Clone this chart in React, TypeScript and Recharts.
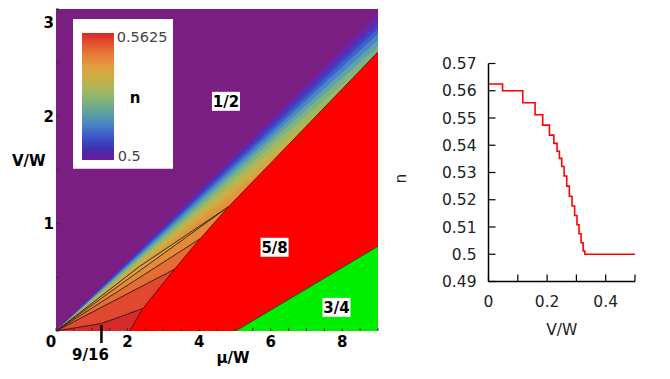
import React from "react";
import {
  ComposedChart,
  Area,
  XAxis,
  YAxis,
  ReferenceDot,
  Legend,
  Label,
  LineChart,
  Line,
} from "recharts";

// ---------- left panel: (mu/W, V/W) phase diagram ----------
const muLabels = [0, 2, 4, 6, 8];
const vLabels = [1, 2, 3];
const muMinor = [0, 0.5, 1, 1.5, 2, 2.5, 3, 3.5, 4, 4.5, 5, 5.5, 6, 6.5, 7, 7.5, 8, 8.5, 9];
const vMinor = [0, 0.5, 1, 1.5, 2, 2.5, 3];
const nineSixteenthMu = 1.27;

// n = 1/2 everywhere underneath
const frameMu = [0, 9];
const frameV = [3, 3];

// rainbow strips below V = mu/3 (upper edge of each strip at mu/W = 9)
const stripTopAt9 = [2.97, 2.92, 2.87, 2.82, 2.77, 2.71, 2.65, 2.58, 2.5, 2.42, 2.34, 2.27];
const stripColors = [
  "#74219a", "#5a2bb0", "#4340c2", "#3b62cc", "#4a86c6", "#60a2aa",
  "#7cb284", "#a0b862", "#c0b24c", "#d4a644", "#dc9a3e", "#e0923a",
];

// plateaus fanning out of the origin, outermost first
const sliverMu = [0, 2.33, 4.83];
const sliverV = [0, 0.6, 1.16];
const plateauDMu = [0, 4.83];
const plateauDV = [0, 1.16];
const plateauCMu = [0, 4.03];
const plateauCV = [0, 0.86];
const plateauBMu = [0, 3.31];
const plateauBV = [0, 0.575];
const plateauAMu = [0, 1.27, 2.43];
const plateauAV = [0, 0.07, 0.21];

// n = 5/8 and n = 3/4 regions (upper edges)
const fiveEighthsMu = [2.06, 2.43, 3.31, 4.03, 4.83, 9];
const fiveEighthsV = [0, 0.21, 0.575, 0.86, 1.16, 2.6];
const threeQuartersMu = [5.02, 9];
const threeQuartersV = [0, 0.79];

const phaseNames = ["1/2", "5/8", "3/4"];
const phaseMu = [4.75, 6.11, 7.84];
const phaseV = [2.14, 0.78, 0.22];

const colorbarRange = ["0.5", "0.5625"];
const colorbarStops = [
  "#dc2626", "#e4572e", "#e8803a", "#e0a040", "#c8b048", "#a4b860",
  "#7cb07c", "#5aa0a0", "#4a80c8", "#3c56c8", "#4030b0", "#6a1a9a",
];

// ---------- right panel: cut at mu/W = 1 ----------
const vw = [0, 0.048, 0.117, 0.159, 0.185, 0.208, 0.223, 0.234, 0.242, 0.25, 0.258, 0.267, 0.276, 0.285, 0.294, 0.302, 0.309, 0.316, 0.323, 0.329, 0.5];
const nVals = [0.5625, 0.56, 0.5556, 0.5512, 0.5474, 0.5437, 0.5407, 0.5378, 0.5352, 0.5322, 0.5287, 0.525, 0.5213, 0.5177, 0.5142, 0.5108, 0.5075, 0.5042, 0.5012, 0.5, 0.5];
const cutTicksX = [0, 0.1, 0.2, 0.3, 0.4, 0.5];
const cutLabelsX = [0, 0.2, 0.4];
const cutTicksY = [0.49, 0.5, 0.51, 0.52, 0.53, 0.54, 0.55, 0.56, 0.57];

const rows = (mu: number[], v: number[]) => mu.map((m, i) => ({ mu: m, v: v[i] }));
const cutData = vw.map((v, i) => ({ v, n: nVals[i] }));

const bold = { fontFamily: "DejaVu Sans", fontSize: 15, fontWeight: "bold" as const, fill: "#000" };
const thin = { fontFamily: "DejaVu Sans", fontSize: 15.5, fill: "#222" };

const MuTick = (p: any) => {
  const { x, y, payload } = p;
  const val = payload.value;
  if (val === nineSixteenthMu) {
    return (
      <g>
        <line x1={x} y1={y - 6} x2={x} y2={y + 12} stroke="#000" strokeWidth={2.5} />
        <text x={x - 11} y={y + 29} textAnchor="middle" {...bold}>9/16</text>
      </g>
    );
  }
  return (
    <g>
      <line x1={x} y1={y} x2={x} y2={y - 3} stroke="#333" />
      {muLabels.includes(val) && (
        <text x={val === 0 ? x - 5 : x} y={y + 16} textAnchor="middle" {...bold}>{val}</text>
      )}
    </g>
  );
};

const VTick = (p: any) => {
  const { x, y, payload } = p;
  const val = payload.value;
  return (
    <g>
      <line x1={x} y1={y} x2={x + 3} y2={y} stroke="#333" />
      {vLabels.includes(val) && (
        <text x={x - 2} y={y + 5.5 + (val === 3 ? 13 : 0)} textAnchor="end" {...bold}>{val}</text>
      )}
    </g>
  );
};

const TopTick = (p: any) => <line x1={p.x} y1={p.y} x2={p.x} y2={p.y + 3} stroke="#333" />;
const RightTick = (p: any) => <line x1={p.x} y1={p.y} x2={p.x - 3} y2={p.y} stroke="#333" />;

const PhaseTag = (text: string) => (p: any) => (
  <g>
    <rect x={p.cx - 14} y={p.cy - 9.5} width={28} height={19} fill="#fff" />
    <text x={p.cx} y={p.cy + 5.5} textAnchor="middle" {...bold}>{text}</text>
  </g>
);

const ColorBar = () => (
  <div style={{ width: 100, height: 150, background: "#fff", position: "relative", boxSizing: "border-box", borderBottom: "1px solid #e0c8dc" }}>
    <div
      style={{
        position: "absolute", left: 9, top: 14, width: 32, height: 127,
        background: `linear-gradient(to bottom, ${colorbarStops.join(",")})`,
      }}
    />
    <span style={{ position: "absolute", left: 44, top: 10, font: "14.5px 'DejaVu Sans'", color: "#444" }}>{colorbarRange[1]}</span>
    <span style={{ position: "absolute", left: 45, top: 129, font: "14.5px 'DejaVu Sans'", color: "#444" }}>{colorbarRange[0]}</span>
    <span style={{ position: "absolute", left: 57, top: 70, font: "bold 15px 'DejaVu Sans'", color: "#000" }}>n</span>
  </div>
);

const area = (key: string, data: any[], fill: string, stroke = "none", sw = 0) => (
  <Area
    key={key}
    data={data}
    dataKey="v"
    type="linear"
    xAxisId="b"
    yAxisId="l"
    fill={fill}
    fillOpacity={1}
    stroke={stroke}
    strokeWidth={sw}
    dot={false}
    activeDot={false}
    isAnimationActive={false}
  />
);

function PhaseDiagram() {
  return (
    <ComposedChart width={390} height={379} margin={{ top: 9, right: 12, bottom: 18, left: 0 }}>
      <XAxis xAxisId="b" type="number" dataKey="mu" domain={[0, 9]} allowDataOverflow ticks={[...muMinor, nineSixteenthMu]} interval={0}
        tick={MuTick} tickLine={false} axisLine={false} tickSize={0} tickMargin={0} height={30}>
        <Label content={(p: any) => (
          <text x={p.viewBox.x + p.viewBox.width / 2 + 16} y={p.viewBox.y + 32} textAnchor="middle" {...bold}>μ/W</text>
        )} />
      </XAxis>
      <XAxis xAxisId="t" orientation="top" type="number" dataKey="mu" domain={[0, 9]} allowDataOverflow ticks={muMinor} interval={0}
        tick={TopTick} tickLine={false} axisLine={false} tickSize={0} tickMargin={0} height={0} />
      <YAxis yAxisId="l" type="number" domain={[0, 3]} allowDataOverflow ticks={vMinor} interval={0}
        tick={VTick} tickLine={false} axisLine={false} tickSize={0} tickMargin={0} width={56}>
        <Label content={(p: any) => (
          <text x={p.viewBox.x + 12} y={p.viewBox.y + p.viewBox.height / 2 - 4.5} {...bold}>V/W</text>
        )} />
      </YAxis>
      <YAxis yAxisId="r" orientation="right" type="number" domain={[0, 3]} allowDataOverflow ticks={vMinor} interval={0}
        tick={RightTick} tickLine={false} axisLine={false} tickSize={0} tickMargin={0} width={0} />

      {area("half", rows(frameMu, frameV), "#7a1e82")}
      {stripTopAt9.map((top, i) => area(`strip${i}`, rows(frameMu, [0, top]), stripColors[i]))}
      {area("sliver", rows(sliverMu, sliverV), "#dea244", "#111", 0.8)}
      {area("D", rows(plateauDMu, plateauDV), "#e5893a", "#111", 0.8)}
      {area("C", rows(plateauCMu, plateauCV), "#e46d33", "#111", 0.8)}
      {area("B", rows(plateauBMu, plateauBV), "#e0492f", "#111", 0.8)}
      {area("A", rows(plateauAMu, plateauAV), "#d62b2b", "#111", 0.8)}
      {area("fiveEighths", rows(fiveEighthsMu, fiveEighthsV), "#ff0000", "#3a0000", 0.7)}
      {area("threeQuarters", rows(threeQuartersMu, threeQuartersV), "#00ee00", "#103010", 0.7)}

      {phaseNames.map((name, i) => (
        <ReferenceDot key={name} xAxisId="b" yAxisId="l" x={phaseMu[i]} y={phaseV[i]} r={0} shape={PhaseTag(name)} />
      ))}
      <Legend content={ColorBar} layout="horizontal" verticalAlign="middle" align="center"
        wrapperStyle={{ left: 72.7, top: 19.3, width: 100, height: 150 }} />
    </ComposedChart>
  );
}

const CutXTick = (p: any) => (
  <g>
    <line x1={p.x} y1={p.y} x2={p.x} y2={p.y - 7} stroke="#000" strokeWidth={1.2} />
    {cutLabelsX.includes(p.payload.value) && (
      <text x={p.x} y={p.y + 25.5} textAnchor="middle" {...thin}>{p.payload.value}</text>
    )}
  </g>
);
const CutYTick = (p: any) => (
  <g>
    <line x1={p.x} y1={p.y} x2={p.x + 7} y2={p.y} stroke="#000" strokeWidth={1.2} />
    <text x={p.x - 12} y={p.y + 5.5} textAnchor="end" {...thin}>{String(Math.round(p.payload.value * 100) / 100)}</text>
  </g>
);
const CutTopTick = (p: any) => <line x1={p.x} y1={p.y} x2={p.x} y2={p.y + 7} stroke="#000" strokeWidth={1.2} />;
const CutRightTick = (p: any) => <line x1={p.x} y1={p.y} x2={p.x - 7} y2={p.y} stroke="#000" strokeWidth={1.2} />;

function CutChart() {
  const frame = { stroke: "#000", strokeWidth: 1.5 };
  return (
    <LineChart width={280} height={379} data={cutData} margin={{ top: 63.5, right: 35, bottom: 37.5, left: 0 }}>
      <XAxis xAxisId="b" type="number" dataKey="v" domain={[0, 0.5]} allowDataOverflow ticks={cutTicksX} interval={0}
        tick={CutXTick} tickLine={false} axisLine={frame} tickSize={0} tickMargin={0} height={60}>
        <Label content={(p: any) => (
          <text x={p.viewBox.x + p.viewBox.width / 2} y={p.viewBox.y + 53.5} textAnchor="middle" {...thin}>V/W</text>
        )} />
      </XAxis>
      <XAxis xAxisId="t" orientation="top" type="number" dataKey="v" domain={[0, 0.5]} allowDataOverflow ticks={cutTicksX} interval={0}
        tick={CutTopTick} tickLine={false} axisLine={frame} tickSize={0} tickMargin={0} height={0}>
        <Label content={(p: any) => (
          <text x={p.viewBox.x + p.viewBox.width / 2 - 2} y={p.viewBox.y - 23.5} textAnchor="middle" {...thin}>μ/W=1</text>
        )} />
      </XAxis>
      <YAxis yAxisId="l" type="number" domain={[0.49, 0.57]} allowDataOverflow ticks={cutTicksY} interval={0}
        tick={CutYTick} tickLine={false} axisLine={frame} tickSize={0} tickMargin={0} width={98.5}>
        <Label content={(p: any) => {
          const cx = p.viewBox.x + 11;
          const cy = p.viewBox.y + p.viewBox.height / 2 + 6;
          return (
            <text x={cx} y={cy} textAnchor="middle" dominantBaseline="central" transform={`rotate(-90 ${cx} ${cy})`} {...thin}>n</text>
          );
        }} />
      </YAxis>
      <YAxis yAxisId="r" orientation="right" type="number" domain={[0.49, 0.57]} allowDataOverflow ticks={cutTicksY} interval={0}
        tick={CutRightTick} tickLine={false} axisLine={frame} tickSize={0} tickMargin={0} width={0} />
      <Line xAxisId="b" yAxisId="l" type="stepAfter" dataKey="n" stroke="#ff0000" strokeWidth={1.6} dot={false} activeDot={false} isAnimationActive={false} />
    </LineChart>
  );
}

export default function App() {
  return (
    <div style={{ position: "relative", width: 670, height: 379, margin: -8, background: "#fff", fontFamily: "DejaVu Sans" }}>
      <div style={{ position: "absolute", left: 0, top: 0 }}>
        <PhaseDiagram />
      </div>
      <div style={{ position: "absolute", left: 390, top: 0 }}>
        <CutChart />
      </div>
    </div>
  );
}
